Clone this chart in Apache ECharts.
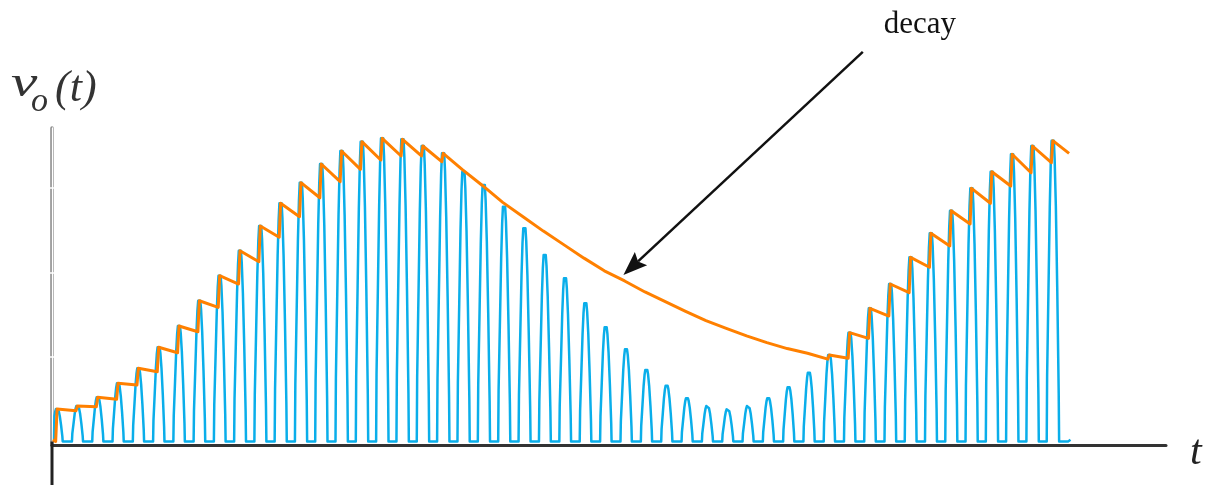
<!DOCTYPE html>
<html>
<head>
<meta charset="utf-8">
<script src="https://cdn.jsdelivr.net/npm/echarts@6/dist/echarts.min.js"></script>
<style>
  html, body { margin: 0; padding: 0; background: #ffffff; }
  #chart { width: 1210px; height: 485px; }
</style>
</head>
<body>
<div id="chart"></div>
<script>
// Peak of each rectified carrier pulse, one per carrier cycle (volts)
const pulsePeaks = [
  0.385, 0.420, 0.523, 0.689, 0.866, 1.115, 1.367, 1.666, 1.962, 2.258,
  2.550, 2.819, 3.063, 3.284, 3.438, 3.548, 3.588, 3.576, 3.497, 3.411,
  3.193, 3.036, 2.779, 2.523, 2.207, 1.931, 1.636, 1.351, 1.091, 0.846,
  0.660, 0.511, 0.420, 0.381, 0.420, 0.511, 0.641, 0.814, 1.024, 1.288,
  1.576, 1.864, 2.180, 2.464, 2.731, 2.996, 3.193, 3.399, 3.497, 3.560
];

// Detector (capacitor) voltage just before each carrier pulse arrives
const detectorBefore = [
  0.000, 0.363, 0.412, 0.499, 0.669, 0.826, 1.051, 1.299, 1.588, 1.864,
  2.128, 2.417, 2.660, 2.885, 3.075, 3.221, 3.331, 3.379, 3.379, 3.311,
  3.220, 3.030, 2.830, 2.660, 2.490, 2.330, 2.170, 2.020, 1.900, 1.770,
  1.655, 1.540, 1.430, 1.340, 1.250, 1.170, 1.100, 1.044, 0.975, 0.985,
  1.221, 1.485, 1.761, 2.062, 2.314, 2.574, 2.819, 3.024, 3.181, 3.299
];

// Carrier time (in carrier periods) of each pulse peak
const pulseTimes = [
  0.25, 1.25, 2.25, 3.25, 4.25, 5.25, 6.25, 7.25, 8.25, 9.25,
  10.25, 11.25, 12.25, 13.25, 14.25, 15.25, 16.25, 17.25, 18.25, 19.25,
  20.25, 21.25, 22.25, 23.25, 24.25, 25.25, 26.25, 27.25, 28.25, 29.25,
  30.25, 31.25, 32.25, 33.25, 34.25, 35.25, 36.25, 37.25, 38.25, 39.25,
  40.25, 41.25, 42.25, 43.25, 44.25, 45.25, 46.25, 47.25, 48.25, 49.25
];

// Where the traces stop at the right
const carrierTail = [[50.0, 0.0], [50.12, 0.02]];
const detectorTail = [50.05, 3.41];

// Tick positions on the vertical axis
const yTicks = [1, 2, 3];

// Annotation arrow, in data coordinates (tail, tip)
const arrowTail = [39.9, 4.61];
const arrowTip = [28.12, 1.97];

// ---- drawing constants ----
const T_MIN = 0, T_MAX = 54.82;
const V_MIN = -0.041, V_MAX = 3.71;

// outline of one rectified pulse: [time offset (periods), fraction of peak]
const PULSE_OUTLINE = [
  [-0.30, 0], [-0.28, 0.22], [-0.21, 0.52], [-0.15, 0.78], [-0.10, 0.93],
  [-0.06, 1], [0.05, 1], [0.09, 0.94], [0.15, 0.78], [0.22, 0.50],
  [0.29, 0.16], [0.31, 0]
];
const CHARGE_LEAD = 0.07;   // the detector jumps along the pulse's rising edge
const START_T = 0.1;

// carrier trace built from the pulse peaks
const carrier = [[START_T, 0]];
pulsePeaks.forEach((peak, k) => {
  const w = 0.88 + 0.12 * Math.min(1, peak / 3.5);
  PULSE_OUTLINE.forEach(([dt, f]) => {
    const t = pulseTimes[k] + dt * w;
    if (t >= START_T) carrier.push([t, f * peak]);
  });
});
carrierTail.forEach(p => carrier.push(p));

// detector output: charges to a pulse peak when the pulse exceeds it, otherwise decays
const detector = [[0.04, 0.02]];
pulsePeaks.forEach((peak, k) => {
  const before = detectorBefore[k];
  detector.push([pulseTimes[k] - CHARGE_LEAD, before]);
  detector.push([pulseTimes[k], Math.max(before, peak)]);
});
detector.push(detectorTail);

const chart = echarts.init(document.getElementById('chart'), null, { renderer: 'canvas' });

const hiddenAxisBits = {
  axisLabel: { show: false },
  splitLine: { show: false }
};

chart.setOption({
  animation: false,
  backgroundColor: '#ffffff',
  grid: { left: 52, right: 44, top: 128, bottom: 40 },
  xAxis: {
    type: 'value', min: T_MIN, max: T_MAX, position: 'bottom',
    axisLine: { onZero: false, lineStyle: { color: '#333333', width: 3 } },
    axisTick: { show: false },
    ...hiddenAxisBits
  },
  yAxis: [
    {
      type: 'value', min: V_MIN, max: V_MAX, position: 'left',
      axisLine: { show: true, onZero: false, lineStyle: { color: '#8a8a8a', width: 3.5 } },
      axisTick: { show: true, inside: true, length: 2, customValues: yTicks,
                  lineStyle: { color: '#ffffff', width: 1.5 } },
      ...hiddenAxisBits
    },
    {
      type: 'value', min: V_MIN, max: V_MAX, position: 'left', offset: 0,
      axisLine: { show: true, onZero: false, lineStyle: { color: '#ffffff', width: 1.4 } },
      axisTick: { show: true, inside: false, length: 2, customValues: yTicks,
                  lineStyle: { color: '#ffffff', width: 1.5 } },
      ...hiddenAxisBits
    }
  ],
  series: [
    {
      name: 'axis below zero', type: 'line', yAxisIndex: 0,
      data: [[0, 0], [0, -0.7]], symbol: 'none', clip: false, silent: true,
      lineStyle: { color: '#222222', width: 3 }, z: 5
    },
    {
      name: 'carrier', type: 'line', data: carrier, symbol: 'none', clip: false,
      lineStyle: { color: '#0aaeea', width: 2.5, join: 'round' }, z: 3
    },
    {
      name: 'detector', type: 'line', data: detector, symbol: 'none', clip: false,
      lineStyle: { color: '#ff8000', width: 3, join: 'round' }, z: 4
    }
  ]
});

// annotations placed from data coordinates
const toPx = p => chart.convertToPixel({ gridIndex: 0 }, p);
const S = toPx(arrowTail), P = toPx(arrowTip);
const dx = P[0] - S[0], dy = P[1] - S[1];
const len = Math.hypot(dx, dy);
const ux = dx / len, uy = dy / len, nx = -uy, ny = ux;
const HEAD_L = 24, HEAD_W = 9, NOTCH = 4;
const back = [P[0] - ux * HEAD_L, P[1] - uy * HEAD_L];
const notch = [P[0] - ux * (HEAD_L - NOTCH), P[1] - uy * (HEAD_L - NOTCH)];

const yTop = toPx([0, V_MAX]);
const xEnd = toPx([T_MAX, V_MIN]);

const mathFont = 'italic 42px "Liberation Serif", "DejaVu Serif", serif';

chart.setOption({
  graphic: [
    {
      type: 'line', silent: true,
      shape: { x1: S[0], y1: S[1], x2: notch[0], y2: notch[1] },
      style: { stroke: '#111111', lineWidth: 2.5 }
    },
    {
      type: 'polygon', silent: true,
      shape: { points: [P, [back[0] + nx * HEAD_W, back[1] + ny * HEAD_W], notch,
                        [back[0] - nx * HEAD_W, back[1] - ny * HEAD_W]] },
      style: { fill: '#111111' }
    },
    {
      type: 'text', silent: true, x: S[0] + 21, y: 25,
      style: { text: 'decay', font: '31px "Liberation Serif", "Times New Roman", serif',
               fill: '#111111', align: 'left', verticalAlign: 'middle' }
    },
    {
      type: 'text', silent: true, x: yTop[0] - 41, y: yTop[1] - 44, scaleX: 1.35, scaleY: 1,
      style: { text: 'v', font: 'italic 44px "Liberation Serif", "DejaVu Serif", serif',
               fill: '#333333', align: 'left', verticalAlign: 'middle' }
    },
    {
      type: 'text', silent: true, x: yTop[0] - 21, y: yTop[1] - 26,
      style: { text: 'o', font: 'italic 34px "Liberation Serif", "DejaVu Serif", serif',
               fill: '#333333', align: 'left', verticalAlign: 'middle' }
    },
    {
      type: 'text', silent: true, x: yTop[0] + 3, y: yTop[1] - 39,
      style: { text: '(t)', font: 'italic 44px "Liberation Serif", "DejaVu Serif", serif',
               fill: '#333333', align: 'left', verticalAlign: 'middle' }
    },
    {
      type: 'text', silent: true, x: xEnd[0] + 24, y: xEnd[1] + 8,
      style: { text: 't', font: mathFont, fill: '#222222', align: 'left', verticalAlign: 'middle' }
    }
  ]
});
</script>
</body>
</html>
